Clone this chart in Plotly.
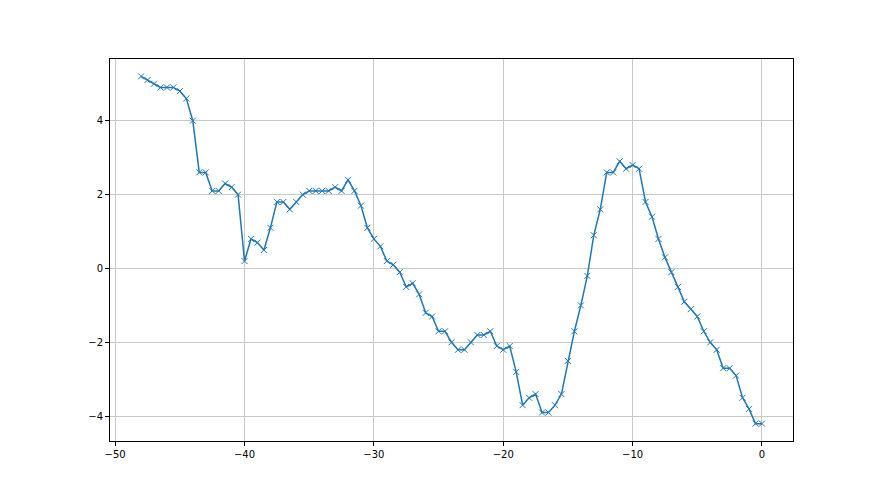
import plotly.graph_objects as go

x_vals = [i * 0.5 - 48 for i in range(97)]
y_vals = [5.2, 5.1, 5.0, 4.9, 4.9, 4.9, 4.8, 4.6, 4.0, 2.6, 2.6, 2.1, 2.1, 2.3, 2.2, 2.0,
          0.2, 0.8, 0.7, 0.5, 1.1, 1.8, 1.8, 1.6, 1.8, 2.0, 2.1, 2.1, 2.1, 2.1, 2.2, 2.1,
          2.4, 2.1, 1.7, 1.1, 0.8, 0.6, 0.2, 0.1, -0.1, -0.5, -0.4, -0.7, -1.2, -1.3,
          -1.7, -1.7, -2.0, -2.2, -2.2, -2.0, -1.8, -1.8, -1.7, -2.1, -2.2, -2.1, -2.8,
          -3.7, -3.5, -3.4, -3.9, -3.9, -3.7, -3.4, -2.5, -1.7, -1.0, -0.2, 0.9, 1.6,
          2.6, 2.6, 2.9, 2.7, 2.8, 2.7, 1.8, 1.4, 0.8, 0.3, -0.1, -0.5, -0.9, -1.1, -1.3,
          -1.7, -2.0, -2.2, -2.7, -2.7, -2.9, -3.5, -3.8, -4.2, -4.2]
assert len(y_vals) == len(x_vals)

x_ticks = [-50, -40, -30, -20, -10, 0]
y_ticks = [-4, -2, 0, 2, 4]

fig = go.Figure(go.Scatter(
    x=x_vals, y=y_vals, mode="lines+markers",
    line=dict(color="#1f77b4", width=1.5),
    marker=dict(symbol="x-thin", size=6, line=dict(color="#1f77b4", width=1)),
))

axis_common = dict(
    showgrid=True, gridcolor="#c8c8c8", gridwidth=0.8,
    showline=True, linecolor="black", linewidth=1, mirror=True,
    ticks="outside", ticklen=4, tickcolor="black", tickwidth=1,
    zeroline=False, tickfont=dict(family="DejaVu Sans", size=10, color="black"),
)
fig.update_xaxes(range=[-50.4, 2.4], tickvals=x_ticks, **axis_common)
fig.update_yaxes(range=[-4.67, 5.67], tickvals=y_ticks, **axis_common)

fig.update_layout(
    width=864, height=479,
    margin=dict(l=102, r=79, t=51, b=46),
    plot_bgcolor="white", paper_bgcolor="white",
    showlegend=False,
)
fig.write_html("out.html")
